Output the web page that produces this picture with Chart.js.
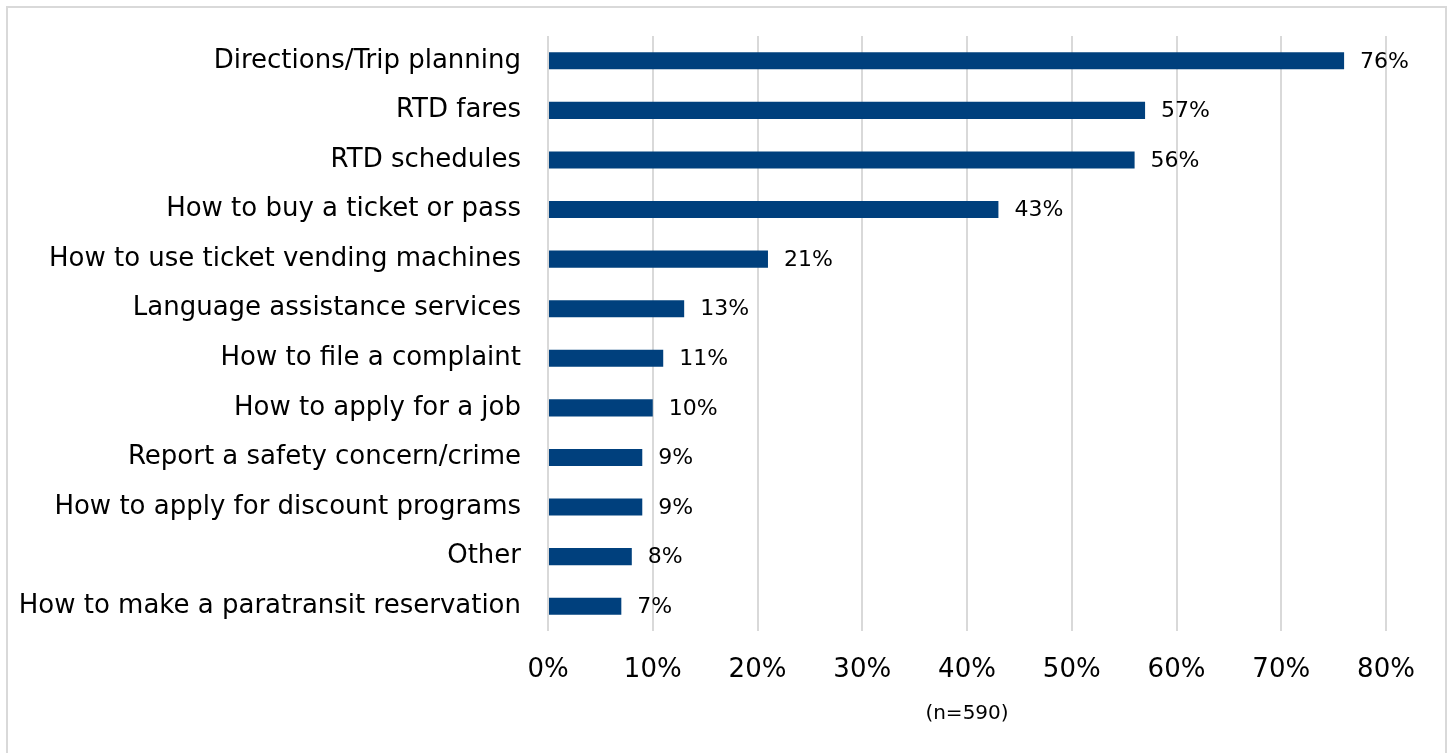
<!DOCTYPE html>
<html>
<head>
<meta charset="utf-8">
<script src="https://cdn.jsdelivr.net/npm/chart.js@4"></script>
<style>
  html, body { margin: 0; padding: 0; background: #fff; overflow: hidden; }
  #frame {
    position: absolute; left: 6px; top: 6px;
    width: 1437px; height: 800px;
    border: 2px solid #d9d9d9;
  }
  #wrap { position: absolute; left: 0; top: 0; width: 1449px; height: 753px; }
</style>
</head>
<body>
<div id="frame"></div>
<div id="wrap"><canvas id="topicsChart"></canvas></div>
<script>
// Categorias e valores (%)
const categories = [
  'Directions/Trip planning',
  'RTD fares',
  'RTD schedules',
  'How to buy a ticket or pass',
  'How to use ticket vending machines',
  'Language assistance services',
  'How to file a complaint',
  'How to apply for a job',
  'Report a safety concern/crime',
  'How to apply for discount programs',
  'Other',
  'How to make a paratransit reservation'
];
const percentValues = [76, 57, 56, 43, 21, 13, 11, 10, 9, 9, 8, 7];
const tickValues = [0, 10, 20, 30, 40, 50, 60, 70, 80];
const axisNote = '(n=590)';

const FONT = "'DejaVu Sans', Verdana, sans-serif";

// Rótulos de dados no fim de cada barra
const barLabels = {
  id: 'barLabels',
  afterDatasetsDraw(chart) {
    const c = chart.ctx;
    const meta = chart.getDatasetMeta(0);
    c.save();
    c.font = '22px ' + FONT;
    c.fillStyle = '#000';
    c.textAlign = 'left';
    c.textBaseline = 'middle';
    meta.data.forEach((bar, i) => {
      c.fillText(percentValues[i] + '%', bar.x + 16, bar.y + 1);
    });
    c.restore();
  }
};

const ctx = document.getElementById('topicsChart').getContext('2d');
const topicsChart = new Chart(ctx, {
  type: 'bar',
  data: {
    labels: categories,
    datasets: [{
      data: percentValues,
      backgroundColor: '#00407d',
      borderWidth: 0,
      categoryPercentage: 1,
      barPercentage: 0.345
    }]
  },
  plugins: [barLabels],
  options: {
    indexAxis: 'y',
    responsive: true,
    maintainAspectRatio: false,
    animation: false,
    layout: { padding: { top: 36, right: 63, left: 0, bottom: 0 } },
    plugins: {
      legend: { display: false },
      tooltip: { enabled: false }
    },
    scales: {
      x: {
        min: 0,
        max: 80,
        afterBuildTicks(scale) {
          scale.ticks = tickValues.map(v => ({ value: v }));
        },
        afterFit(scale) { scale.height = 122; },
        grid: { color: '#d9d9d9', lineWidth: 2, drawTicks: false },
        border: { display: false },
        ticks: {
          padding: 24,
          color: '#000',
          font: { family: FONT, size: 26 },
          callback: v => v + '%'
        },
        title: {
          display: true,
          text: axisNote,
          color: '#000',
          font: { family: FONT, size: 20 },
          padding: { top: 0, bottom: 27 }
        }
      },
      y: {
        afterFit(scale) {
          scale.width = 548;
          scale.paddingTop = 0;
          scale.paddingBottom = 0;
        },
        grid: { display: false, drawTicks: false },
        border: { display: false },
        ticks: {
          padding: 27,
          color: '#000',
          font: { family: FONT, size: 26 },
          autoSkip: false
        }
      }
    }
  }
});
</script>
</body>
</html>
